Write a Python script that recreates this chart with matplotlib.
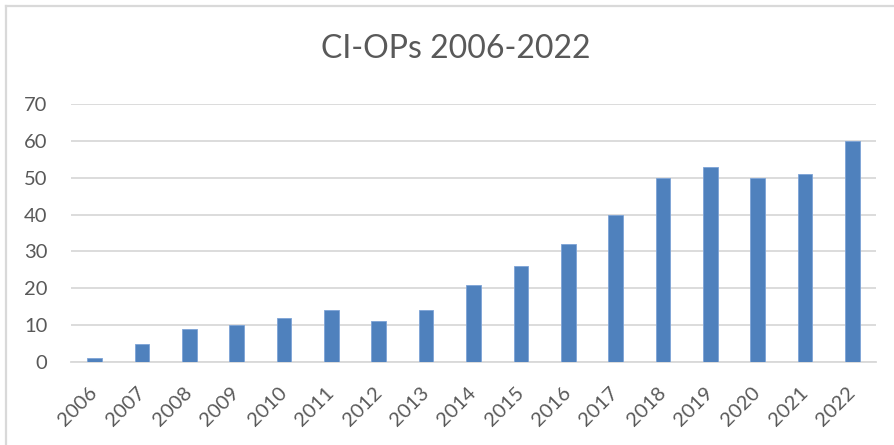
import numpy as np
import matplotlib.pyplot as plt
from matplotlib.lines import Line2D

years = ['2006', '2007', '2008', '2009', '2010', '2011', '2012', '2013', '2014',
         '2015', '2016', '2017', '2018', '2019', '2020', '2021', '2022']
counts = [1, 5, 9, 10, 12, 14, 11, 14, 21, 26, 32, 40, 50, 53, 50, 51, 60]
y_ticks = [0, 10, 20, 30, 40, 50, 60, 70]

plt.rcParams['font.family'] = ['Lato', 'DejaVu Sans']
text_col = '#595959'
grid_col = '#D9D9D9'

fig = plt.figure(figsize=(8.95, 4.45), dpi=100)
ax = fig.add_axes([71 / 895, 1 - 362 / 445, 805 / 895, 258 / 445])

x = np.arange(len(years))
ax.bar(x, counts, width=0.31, color='#4F81BD', edgecolor='#7DA3D6', linewidth=0.6, zorder=3)

ax.set_xlim(-0.5, len(years) - 0.5)
ax.set_ylim(0, 70)
ax.set_yticks(y_ticks)
ax.set_yticklabels([str(v) for v in y_ticks], fontsize=14.5, color=text_col)
ax.set_xticks(x)
ax.set_xticklabels(years, fontsize=14.5, color=text_col, rotation=45,
                   ha='right', va='center', rotation_mode='anchor')
ax.tick_params(axis='both', length=0)
ax.tick_params(axis='y', pad=17)
ax.tick_params(axis='x', pad=20)

ax.grid(axis='y', color=grid_col, linewidth=1.3, zorder=0)
for s in ['left', 'right', 'top']:
    ax.spines[s].set_visible(False)
ax.spines['bottom'].set_color(grid_col)
ax.spines['bottom'].set_linewidth(1.3)

fig.text(456 / 895, 1 - 49 / 445, 'CI-OPs 2006-2022', fontsize=23, color=text_col,
         ha='center', va='center')

# chart frame (left and top edges visible)
fig.add_artist(Line2D([6.5 / 895, 6.5 / 895], [0, 1 - 5.5 / 445], transform=fig.transFigure,
                      color=grid_col, linewidth=1.6))
fig.add_artist(Line2D([6.5 / 895, 1], [1 - 5.5 / 445, 1 - 5.5 / 445], transform=fig.transFigure,
                      color=grid_col, linewidth=1.6))

fig.savefig('out.png', dpi=100)
